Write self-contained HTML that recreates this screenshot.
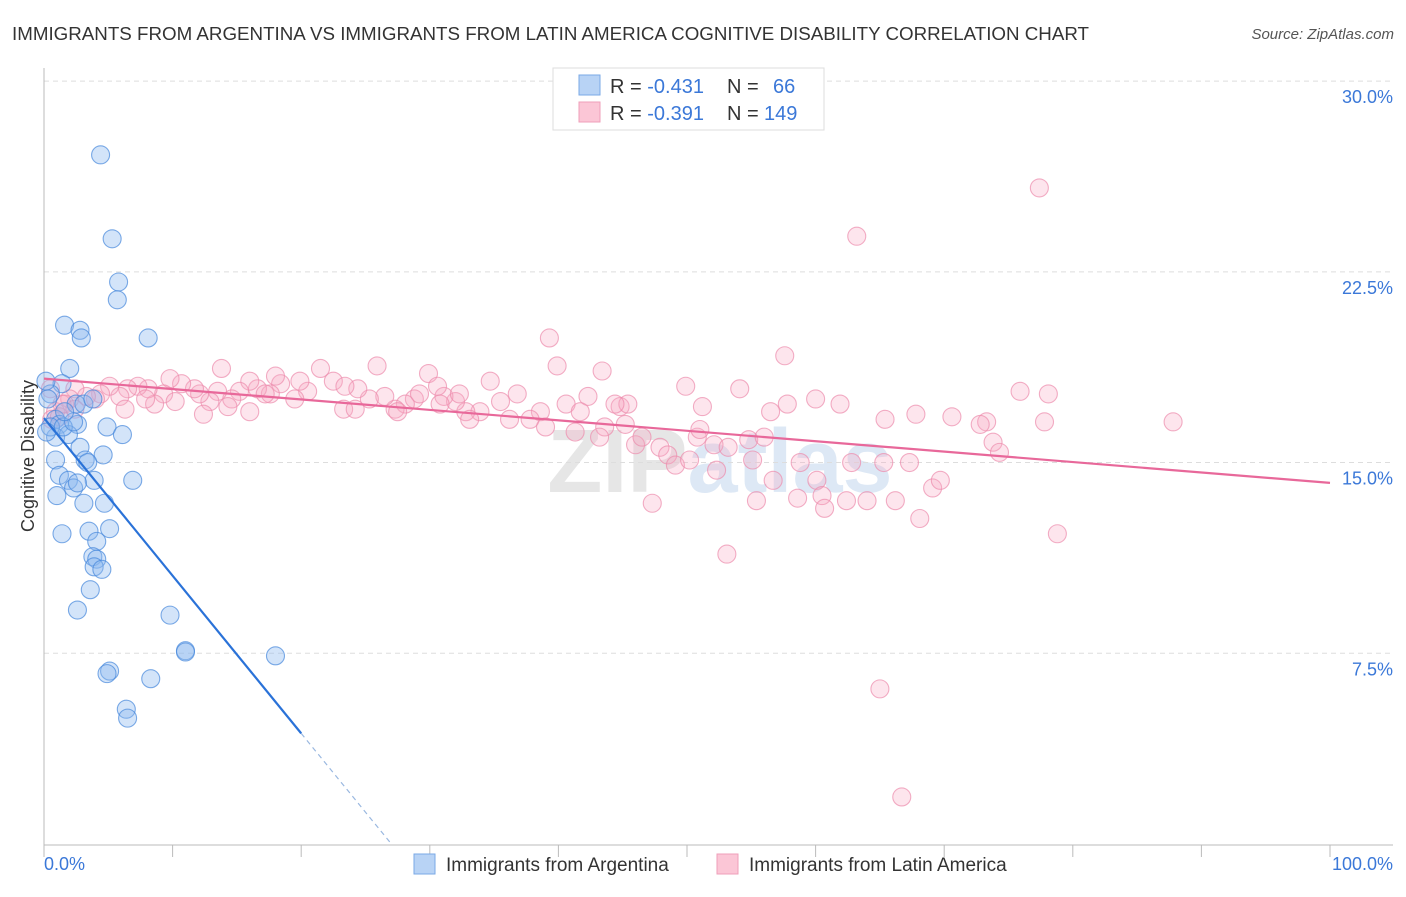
<!DOCTYPE html>
<html><head><meta charset="utf-8"><style>
body{margin:0;background:#fff;font-family:"Liberation Sans",sans-serif}
svg text{font-family:"Liberation Sans",sans-serif}
</style></head><body>
<svg width="1406" height="892" xmlns="http://www.w3.org/2000/svg">
<text x="12" y="40" font-size="18" fill="#333" textLength="1077" lengthAdjust="spacingAndGlyphs">IMMIGRANTS FROM ARGENTINA VS IMMIGRANTS FROM LATIN AMERICA COGNITIVE DISABILITY CORRELATION CHART</text>
<text x="1394" y="39" font-size="15" fill="#555" font-style="italic" text-anchor="end">Source: ZipAtlas.com</text>
<text x="720" y="492" font-size="90" fill="#e6e6e6" text-anchor="middle" font-weight="bold">ZIP<tspan fill="#dde8f5">atlas</tspan></text>
<g id="grid"></g>
<g id="axes"></g>
<g id="pts"></g>
<g id="trends"></g>
<text transform="translate(34,456) rotate(-90)" font-size="18" fill="#333" text-anchor="middle">Cognitive Disability</text>
<g>
<rect x="553" y="68" width="271" height="62" fill="#fff" stroke="#ddd"/>
<rect x="579" y="75" width="21" height="20" fill="#b8d3f5" stroke="#7aa8e6"/>
<rect x="579" y="102" width="21" height="20" fill="#fbc6d6" stroke="#ef9fb9"/>
<text x="610" y="93" font-size="20" fill="#333">R = <tspan fill="#3b78d8">-0.431</tspan><tspan x="727">N = </tspan><tspan x="773" fill="#3b78d8">66</tspan></text>
<text x="610" y="120" font-size="20" fill="#333">R = <tspan fill="#3b78d8">-0.391</tspan><tspan x="727">N = </tspan><tspan x="764" fill="#3b78d8">149</tspan></text>
</g>
<g>
<rect x="414" y="854" width="21" height="20" fill="#b8d3f5" stroke="#7aa8e6"/>
<text x="446" y="871" font-size="19" fill="#333">Immigrants from Argentina</text>
<rect x="717" y="854" width="21" height="20" fill="#fbc6d6" stroke="#ef9fb9"/>
<text x="749" y="871" font-size="19" fill="#333">Immigrants from Latin America</text>
</g>
</svg>
<script>
const yTicks=[7.5,15,22.5,30];
const yTickLabels=["7.5%","15.0%","22.5%","30.0%"];
const xTickLabels=["0.0%","100.0%"];
const blueX=[4.4,5.3,5.8,5.7,1.6,2.8,2.9,8.1,2.0,1.4,0.5,2.5,3.1,0.9,1.2,2.6,4.9,6.1,0.9,1.9,2.8,4.6,3.2,3.4,0.9,1.2,1.9,2.3,6.9,1.0,3.1,4.7,1.4,3.5,5.1,4.1,3.8,4.1,3.9,4.5,3.6,2.6,9.8,11.0,11.0,18.0,5.1,4.9,8.3,6.4,6.5,0.15,0.3,0.5,0.2,1.5,2.3,3.9,1.6,3.8,2.6];
const blueY=[27.1,23.8,22.1,21.4,20.4,20.2,19.9,19.9,18.7,18.1,17.7,17.3,17.3,16.7,16.5,16.5,16.4,16.1,16.0,16.1,15.6,15.3,15.1,15.0,15.1,14.5,14.3,14.0,14.3,13.7,13.4,13.4,12.2,12.3,12.4,11.9,11.3,11.2,10.9,10.8,10.0,9.2,9.0,7.6,7.55,7.4,6.8,6.7,6.5,5.3,4.95,18.2,17.5,16.4,16.2,16.4,16.6,14.3,17.0,17.5,14.2];
const pinkX=[77.4,63.2,39.3,57.6,39.9,13.8,25.9,29.9,43.4,34.7,49.9,54.1,75.9,78.1,36.8,61.9,60.0,57.8,51.2,56.5,67.8,70.6,87.8,77.8,73.3,72.8,73.8,74.3,65.4,44.8,45.4,40.6,42.3,38.6,36.2,33.9,32.8,32.0,31.1,30.6,32.3,30.8,28.8,28.1,27.3,26.5,25.3,24.4,23.3,22.5,21.5,20.5,19.5,18.4,18.0,17.6,16.6,16.0,15.2,14.6,14.3,13.5,12.9,12.1,12.4,11.7,10.7,9.8,9.3,8.6,8.1,7.3,6.5,5.9,5.1,4.4,4.0,3.3,2.4,2.0,1.4,0.9,0.5,0.6,1.2,1.6,2.4,6.3,7.9,10.2,16.0,17.2,19.9,23.4,24.2,27.5,29.2,33.1,35.5,37.8,39.0,41.3,41.7,43.6,44.4,46.0,46.5,47.9,48.5,49.1,50.2,50.8,52.1,52.3,53.2,54.8,55.1,55.4,56.0,56.7,58.6,58.8,60.1,60.5,60.7,62.4,62.8,64.0,65.3,66.2,67.3,68.1,69.1,69.7,47.3,53.1,78.8,65.0,66.7,51.0,43.2,45.2];
const pinkY=[25.8,23.9,19.9,19.2,18.8,18.7,18.8,18.5,18.6,18.2,18.0,17.9,17.8,17.7,17.7,17.3,17.5,17.3,17.2,17.0,16.9,16.8,16.6,16.6,16.6,16.5,15.8,15.4,16.7,17.2,17.3,17.3,17.6,17.0,16.7,17.0,17.0,17.4,17.6,18.0,17.7,17.3,17.5,17.3,17.1,17.6,17.5,17.9,17.1,18.2,18.7,17.8,17.5,18.1,18.4,17.7,17.9,18.2,17.8,17.5,17.2,17.8,17.4,17.7,16.9,17.9,18.1,18.3,17.7,17.3,17.9,18.0,17.9,17.6,18.0,17.7,17.5,17.6,17.9,17.5,17.3,17.0,17.9,16.7,16.8,17.3,17.1,17.1,17.5,17.4,17.0,17.7,18.2,18.0,17.1,17.0,17.7,16.7,17.4,16.7,16.4,16.2,17.0,16.4,17.3,15.7,16.0,15.6,15.3,14.9,15.1,16.0,15.7,14.7,15.6,15.9,15.1,13.5,16.0,14.3,13.6,15.0,14.3,13.7,13.2,13.5,15.0,13.5,15.0,13.5,15.0,12.8,14.0,14.3,13.4,11.4,12.2,6.1,1.85,16.3,16.0,16.5];
const blueTrend=[16.75,-0.62];
const pinkTrend=[18.3,-0.041];
const NS="http://www.w3.org/2000/svg";
const X=v=>44+v*12.86, Y=v=>844-v*25.43;
function mk(t,a,p){const e=document.createElementNS(NS,t);for(const k in a)e.setAttribute(k,a[k]);p.appendChild(e);return e;}
const grid=document.getElementById('grid'),axes=document.getElementById('axes'),pts=document.getElementById('pts'),tr=document.getElementById('trends');
yTicks.forEach((t,i)=>{
 const l=mk('line',{x1:44,x2:1393,y1:Y(t),y2:Y(t),stroke:'#ddd','stroke-dasharray':'5,4'},grid);
 
 
 const tx=mk('text',{x:1393,y:Y(t)+22,'font-size':18,fill:'#3b78d8','text-anchor':'end'},axes);
 tx.textContent=yTickLabels[i];
 
 
});
const ya=mk('line',{x1:44,x2:44,y1:68,y2:845,stroke:'#bbb'},axes);


const xa=mk('line',{x1:44,x2:1393,y1:845,y2:845,stroke:'#bbb'},axes);


for(let i=0;i<=10;i++){const t=mk('line',{x1:X(i*10),x2:X(i*10),y1:845,y2:857,stroke:'#bbb'},axes);
 
 }
[[0,'start',44],[100,'end',1393]].forEach((d,i)=>{const t=mk('text',{x:d[2],y:870,'font-size':18,fill:'#3b78d8','text-anchor':d[1]},axes);t.textContent=xTickLabels[i];
 
 });
pinkX.forEach((x,i)=>{const c=mk('circle',{cx:X(x),cy:Y(pinkY[i]),r:9,fill:'rgba(247,170,196,0.3)',stroke:'rgba(236,140,172,0.7)','stroke-width':1.1},pts);
 
 });
blueX.forEach((x,i)=>{const c=mk('circle',{cx:X(x),cy:Y(blueY[i]),r:9,fill:'rgba(140,185,240,0.38)',stroke:'rgba(70,135,220,0.7)','stroke-width':1.1},pts);
 
 });
const bz=-blueTrend[0]/blueTrend[1];
const b1=mk('line',{x1:X(0),y1:Y(blueTrend[0]),x2:X(20),y2:Y(blueTrend[0]+20*blueTrend[1]),stroke:'#2a72d8','stroke-width':2.2},tr);


const b2=mk('line',{x1:X(20),y1:Y(blueTrend[0]+20*blueTrend[1]),x2:X(bz),y2:Y(0),stroke:'#9ab8e0','stroke-width':1.2,'stroke-dasharray':'5,4'},tr);


const p1=mk('line',{x1:X(0),y1:Y(pinkTrend[0]),x2:X(100),y2:Y(pinkTrend[0]+100*pinkTrend[1]),stroke:'#e8689a','stroke-width':2.2},tr);


</script>
</body></html>
